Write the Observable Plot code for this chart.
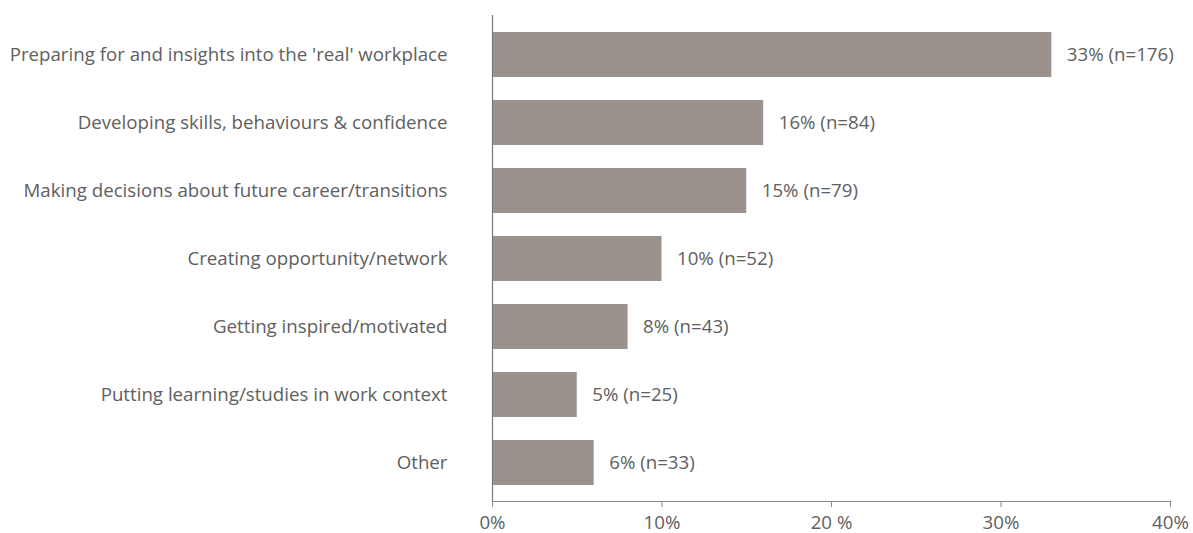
<!DOCTYPE html>
<html>
<head>
<meta charset="utf-8">
<script src="https://cdn.jsdelivr.net/npm/d3@7"></script>
<script src="https://cdn.jsdelivr.net/npm/@observablehq/plot@0.6"></script>
<style>
  html, body { margin: 0; padding: 0; background: #fff; }
  #chart svg { display: block; }
</style>
</head>
<body>
<div id="chart"></div>
<script>
const categories = [
  "Preparing for and insights into the 'real' workplace",
  "Developing skills, behaviours & confidence",
  "Making decisions about future career/transitions",
  "Creating opportunity/network",
  "Getting inspired/motivated",
  "Putting learning/studies in work context",
  "Other"
];
const percents = [33, 16, 15, 10, 8, 5, 6];
const counts = [176, 84, 79, 52, 43, 25, 33];
const xTicks = [0, 10, 20, 30, 40];
const xTickLabels = ["0%", "10%", "20 %", "30%", "40%"];

const data = categories.map((c, i) => ({
  category: c,
  value: percents[i],
  label: `${percents[i]}% (n=${counts[i]})`
}));

const font = "'Open Sans', Lato, sans-serif";
const textColor = "#606060";
const fs = 18.7;

const chart = Plot.plot({
  width: 1193,
  height: 533,
  marginLeft: 492,
  marginRight: 23,
  marginTop: 15,
  marginBottom: 32,
  style: { fontFamily: font, fontSize: fs + "px", color: textColor, background: "#fff" },
  x: { domain: [0, 40] },
  y: { domain: categories, range: [20.5, 497], paddingInner: 0.34, paddingOuter: 0.17 },
  marks: [
    Plot.barX(data, { x: "value", y: "category", fill: "#9b918d" }),
    Plot.text(data, { x: "value", y: "category", text: "label", textAnchor: "start", dx: 15, fill: textColor, fontSize: fs }),
    Plot.axisY({ tickSize: 0, tickPadding: 45, label: null, fill: textColor, fontSize: fs }),
    Plot.axisX({ ticks: xTicks, tickFormat: (d) => xTickLabels[xTicks.indexOf(d)], tickSize: 6, tickPadding: 8, label: null, stroke: "#888", fill: textColor, fontSize: fs }),
    Plot.frame({ anchor: "bottom", stroke: "#888" }),
    Plot.ruleX([0], { stroke: "#777", strokeWidth: 1.2 })
  ]
});
document.getElementById("chart").appendChild(chart);
</script>
</body>
</html>
